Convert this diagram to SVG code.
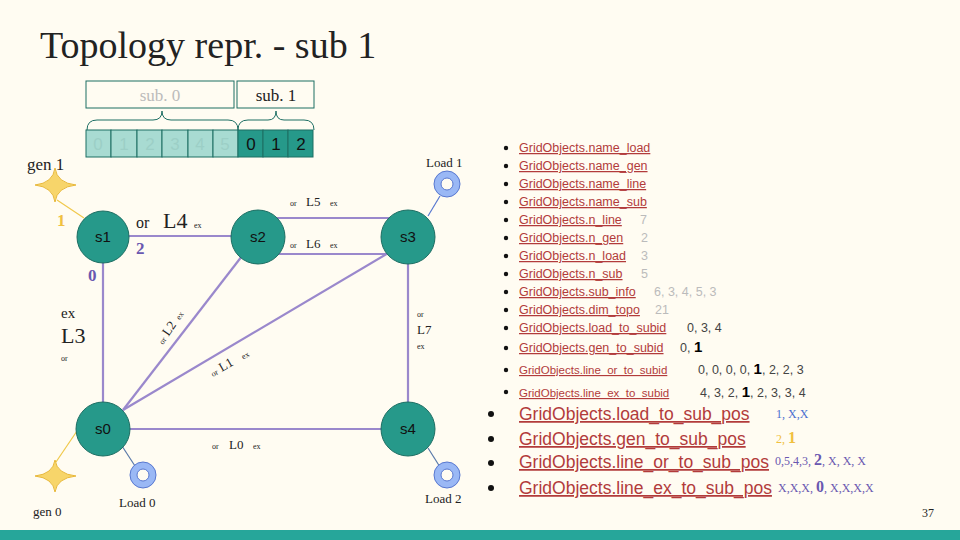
<svg xmlns="http://www.w3.org/2000/svg" width="960" height="540" viewBox="0 0 960 540">
<style>
.serif{font-family:"Liberation Serif","DejaVu Serif",serif;fill:#222}
.sans{font-family:"Liberation Sans",Arial,sans-serif}
.node circle{fill:#26998a;stroke:#1d6e63;stroke-width:1}
.node text{font-family:"Liberation Sans",Arial,sans-serif;font-size:15px;fill:#111;text-anchor:middle}
.ln{stroke:#9a88cc;stroke-width:2.2;fill:none}
.link{font-family:"Liberation Sans",Arial,sans-serif;fill:#b23b3b;text-decoration:underline}
.g{fill:#bbb}
.d{fill:#444}
.load circle.o{fill:#9ab8f5;stroke:#5878d0;stroke-width:1}
.load circle.i{fill:#fffcf2;stroke:#5878d0;stroke-width:1}
.star{fill:#f7d56a;stroke:#e8b83a;stroke-width:1}
.cellA{fill:#a8dbd2;stroke:#1d6e63;stroke-width:1}
.cellB{fill:#26998a;stroke:#1d6e63;stroke-width:1}
</style>
<rect width="960" height="540" fill="#fffcf2"/>
<rect y="530" width="960" height="10" fill="#26a69a"/>
<text class="serif" x="40" y="58" font-size="38">Topology repr. - sub 1</text>
<g id="vector">
<rect x="86" y="81" width="148" height="27" fill="none" stroke="#1d6e63"/>
<text class="serif" x="160" y="101" font-size="17" text-anchor="middle" style="fill:#bbb">sub. 0</text>
<rect x="237" y="81" width="77" height="27" fill="none" stroke="#1d6e63"/>
<text class="serif" x="276" y="101" font-size="17" text-anchor="middle">sub. 1</text>
<path d="M87,130 Q87,120 97,120 L153,120 Q162,120 162,111 Q162,120 171,120 L228,120 Q238,120 238,130" fill="none" stroke="#1d6e63"/>
<path d="M238,130 Q238,120 248,120 L268,120 Q276,120 276,111 Q276,120 284,120 L304,120 Q314,120 314,130" fill="none" stroke="#1d6e63"/>
<rect class="cellA" x="86" y="130" width="25" height="27"/><rect class="cellA" x="111" y="130" width="26" height="27"/><rect class="cellA" x="137" y="130" width="25" height="27"/><rect class="cellA" x="162" y="130" width="26" height="27"/><rect class="cellA" x="188" y="130" width="25" height="27"/><rect class="cellA" x="213" y="130" width="25" height="27"/>
<rect class="cellB" x="238" y="130" width="25" height="27"/><rect class="cellB" x="263" y="130" width="25" height="27"/><rect class="cellB" x="288" y="130" width="25" height="27"/>
<g class="sans" font-size="17" text-anchor="middle" fill="#9ccfc6"><text x="98" y="150">0</text><text x="124" y="150">1</text><text x="150" y="150">2</text><text x="175" y="150">3</text><text x="200" y="150">4</text><text x="225" y="150">5</text></g>
<g class="sans" font-size="17" text-anchor="middle" fill="#111"><text x="251" y="150">0</text><text x="276" y="150">1</text><text x="301" y="150">2</text></g>
</g>
<g id="connectors">
<line class="ln" x1="103" y1="236" x2="258" y2="236"/>
<line class="ln" x1="258" y1="218" x2="408" y2="218"/>
<line class="ln" x1="258" y1="254" x2="408" y2="254"/>
<line class="ln" x1="103" y1="237" x2="103" y2="430"/>
<line class="ln" x1="123" y1="410" x2="242" y2="256"/>
<line class="ln" x1="123" y1="410" x2="390" y2="252"/>
<line class="ln" x1="408" y1="237" x2="408" y2="430"/>
<line class="ln" x1="103" y1="429" x2="408" y2="429"/>
<line x1="57" y1="200" x2="84" y2="218" stroke="#f0c84a" stroke-width="1.2"/>
<line x1="77" y1="431" x2="56" y2="462" stroke="#f0c84a" stroke-width="1.2"/>
<line x1="122" y1="446" x2="135" y2="466" stroke="#5878a8" stroke-width="1.2"/>
<line x1="428" y1="448" x2="440" y2="467" stroke="#5878a8" stroke-width="1.2"/>
<line x1="428" y1="216" x2="440" y2="196" stroke="#5878d0" stroke-width="1.2"/>
</g>
<g id="s1" class="node"><circle cx="103" cy="237" r="26"/><text x="103" y="242">s1</text></g>
<g id="s2" class="node"><circle cx="258" cy="237" r="27"/><text x="258" y="242">s2</text></g>
<g id="s3" class="node"><circle cx="408" cy="237" r="27"/><text x="408" y="242">s3</text></g>
<g id="s0" class="node"><circle cx="103" cy="429" r="27"/><text x="103" y="434">s0</text></g>
<g id="s4" class="node"><circle cx="408" cy="429" r="27"/><text x="408" y="434">s4</text></g>
<g id="gen1"><path class="star" d="M55,168 Q57,183 76,185 Q57,187 55,202 Q53,187 35,185 Q53,183 55,168Z"/><text class="serif" x="27" y="170" font-size="17">gen 1</text></g>
<g id="gen0"><path class="star" d="M55,460 Q57,474 76,476 Q57,478 55,492 Q53,478 35,476 Q53,474 55,460Z"/><text class="serif" x="33" y="516" font-size="13">gen 0</text></g>
<g id="load0" class="load"><circle class="o" cx="143" cy="475" r="13"/><circle class="i" cx="143" cy="475" r="6"/><text class="serif" x="119" y="507" font-size="13">Load 0</text></g>
<g id="load2" class="load"><circle class="o" cx="447" cy="475" r="13"/><circle class="i" cx="447" cy="475" r="6"/><text class="serif" x="425" y="503" font-size="13">Load 2</text></g>
<g id="load1" class="load"><circle class="o" cx="447" cy="184" r="13"/><circle class="i" cx="447" cy="184" r="6"/><text class="serif" x="426" y="167" font-size="13">Load 1</text></g>
<g id="labels">
<text class="serif" x="57" y="226" font-size="17" font-weight="bold" style="fill:#f0c040">1</text>
<text class="serif" x="136" y="254" font-size="17" font-weight="bold" style="fill:#6a58b0">2</text>
<text class="serif" x="88" y="281" font-size="17" font-weight="bold" style="fill:#6a58b0">0</text>
<text class="serif" x="136" y="228" font-size="16">or</text><text class="serif" x="163" y="228" font-size="22">L4</text><text class="serif" x="194" y="228" font-size="8">ex</text>
<text class="serif" x="290" y="206" font-size="8">or</text><text class="serif" x="306" y="206" font-size="13">L5</text><text class="serif" x="330" y="206" font-size="8">ex</text>
<text class="serif" x="290" y="248" font-size="8">or</text><text class="serif" x="306" y="248" font-size="13">L6</text><text class="serif" x="330" y="248" font-size="8">ex</text>
<text class="serif" x="61" y="318" font-size="15">ex</text><text class="serif" x="61" y="343" font-size="22">L3</text><text class="serif" x="61" y="361" font-size="8">or</text>
<text class="serif" x="417" y="317" font-size="8">or</text><text class="serif" x="417" y="334" font-size="13">L7</text><text class="serif" x="417" y="349" font-size="8">ex</text>
<text class="serif" x="212" y="449" font-size="8">or</text><text class="serif" x="229" y="449" font-size="13">L0</text><text class="serif" x="253" y="449" font-size="8">ex</text>
<g transform="translate(163,345) rotate(-56)"><text class="serif" x="0" y="0" font-size="8">or</text><text class="serif" x="10" y="0" font-size="13">L2</text><text class="serif" x="30" y="0" font-size="8">ex</text></g>
<g transform="translate(213,377) rotate(-30)"><text class="serif" x="0" y="0" font-size="8">or</text><text class="serif" x="10" y="0" font-size="13">L1</text><text class="serif" x="35" y="0" font-size="8">ex</text></g>
</g>
<g id="list">
<g fill="#111"><circle cx="506" cy="148" r="2.2"/><circle cx="506" cy="166" r="2.2"/><circle cx="506" cy="184" r="2.2"/><circle cx="506" cy="202" r="2.2"/><circle cx="506" cy="220" r="2.2"/><circle cx="506" cy="238" r="2.2"/><circle cx="506" cy="256" r="2.2"/><circle cx="506" cy="274" r="2.2"/><circle cx="506" cy="292" r="2.2"/><circle cx="506" cy="310" r="2.2"/><circle cx="506" cy="328" r="2.2"/><circle cx="506" cy="348" r="2.2"/><circle cx="506" cy="370" r="2.2"/><circle cx="506" cy="392" r="2.2"/><circle cx="491" cy="414" r="3"/><circle cx="491" cy="439" r="3"/><circle cx="491" cy="463" r="3"/><circle cx="491" cy="488" r="3"/></g>
<g font-size="12.5">
<text class="link" x="519" y="152">GridObjects.name_load</text>
<text class="link" x="519" y="170">GridObjects.name_gen</text>
<text class="link" x="519" y="188">GridObjects.name_line</text>
<text class="link" x="519" y="206">GridObjects.name_sub</text>
<text class="link" x="519" y="224">GridObjects.n_line</text><text class="sans g" x="640" y="224">7</text>
<text class="link" x="519" y="242">GridObjects.n_gen</text><text class="sans g" x="641" y="242">2</text>
<text class="link" x="519" y="260">GridObjects.n_load</text><text class="sans g" x="641" y="260">3</text>
<text class="link" x="519" y="278">GridObjects.n_sub</text><text class="sans g" x="641" y="278">5</text>
<text class="link" x="519" y="296">GridObjects.sub_info</text><text class="sans g" x="654" y="296">6, 3, 4, 5, 3</text>
<text class="link" x="519" y="314">GridObjects.dim_topo</text><text class="sans g" x="655" y="314">21</text>
<text class="link" x="519" y="332">GridObjects.load_to_subid</text><text class="sans d" x="687" y="332">0, 3, 4</text>
<text class="link" x="519" y="352">GridObjects.gen_to_subid</text><text class="sans d" x="680" y="352">0, <tspan font-weight="bold" fill="#000" font-size="15">1</tspan></text>
<text class="link" x="519" y="374" font-size="11.5">GridObjects.line_or_to_subid</text><text class="sans d" x="698" y="374">0, 0, 0, 0, <tspan font-weight="bold" fill="#000" font-size="15">1</tspan>, 2, 2, 3</text>
<text class="link" x="519" y="397" font-size="11.5">GridObjects.line_ex_to_subid</text><text class="sans d" x="700" y="397">4, 3, 2, <tspan font-weight="bold" fill="#000" font-size="15">1</tspan>, 2, 3, 3, 4</text>
</g>
<g font-size="17.5">
<text class="link" x="519" y="420">GridObjects.load_to_sub_pos</text>
<text class="link" x="519" y="445">GridObjects.gen_to_sub_pos</text>
<text class="link" x="519" y="468">GridObjects.line_or_to_sub_pos</text>
<text class="link" x="519" y="494">GridObjects.line_ex_to_sub_pos</text>
</g>
<text class="serif" x="776" y="418" font-size="12" style="fill:#4a6fd0">1, X,X</text>
<text class="serif" x="776" y="443" font-size="12" style="fill:#f0c040">2, <tspan font-size="16" font-weight="bold">1</tspan></text>
<text class="serif" x="775" y="465" font-size="12" style="fill:#6a58b0">0,5,4,3, <tspan font-size="16" font-weight="bold">2</tspan>, X, X, X</text>
<text class="serif" x="778" y="492" font-size="12" style="fill:#6a58b0">X,X,X, <tspan font-size="16" font-weight="bold">0</tspan>, X,X,X,X</text>
</g>
<text class="serif" x="922" y="517" font-size="12">37</text>
</svg>
